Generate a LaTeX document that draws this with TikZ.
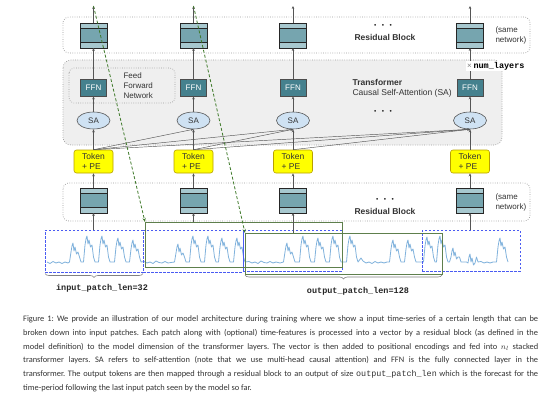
\documentclass[tikz,border=0pt]{standalone}
\usepackage{fontspec}
\setmainfont{Liberation Sans}
\setmonofont{Liberation Mono}
\newfontfamily\capfont{Carlito}
\usetikzlibrary{shapes.geometric,arrows.meta,decorations.pathreplacing}

\definecolor{resL}{HTML}{A7C8CF}
\definecolor{resM}{HTML}{76A5AF}
\definecolor{ffnC}{HTML}{45818E}
\definecolor{saC}{HTML}{CFE2F3}
\definecolor{tokC}{HTML}{FFFF00}
\definecolor{tokD}{HTML}{B8A000}
\definecolor{trC}{HTML}{EFEFEF}
\definecolor{dotC}{HTML}{9A9A9A}
\definecolor{blueD}{HTML}{4A5BF2}
\definecolor{greenB}{HTML}{5E7F4C}
\definecolor{greenA}{HTML}{3F7A2A}
\definecolor{serC}{HTML}{80B2DC}
\definecolor{lineC}{HTML}{555555}
\definecolor{txtC}{HTML}{333333}

\newcommand\ResBlk[3]{%
  \node[resblk] (#1) at (#2,#3) {};
  \fill[resM] ([yshift=-5pt]#1.north west) rectangle ([yshift=6pt]#1.south east);
  \draw[black!85,line width=0.9pt] ([yshift=-5pt]#1.north west) -- ([yshift=-5pt]#1.north east)
     ([yshift=6pt]#1.south west) -- ([yshift=6pt]#1.south east)
     (#1.north west) rectangle (#1.south east);}

\begin{document}
\begin{tikzpicture}[x=1pt,y=-1pt,
  dotbox/.style={draw=dotC, line width=0.7pt, dash pattern=on 0.7pt off 1.6pt, rounded corners=6pt},
  resblk/.style={draw=black!85, line width=0.9pt, fill=resL, minimum width=27pt, minimum height=25pt, inner sep=0pt, outer sep=0pt},
  ffn/.style={draw=black!70, line width=0.6pt, fill=ffnC, minimum width=26pt, minimum height=17pt, inner sep=0pt, text=white, font=\fontsize{8}{9}\selectfont},
  sa/.style={ellipse, draw=lineC, line width=0.6pt, fill=saC, minimum width=33pt, minimum height=17pt, inner sep=0pt, font=\fontsize{8}{9}\selectfont, text=txtC},
  tok/.style={draw=tokD, line width=0.6pt, fill=tokC, rounded corners=2.5pt, minimum width=39pt, minimum height=23pt, inner sep=0pt, align=left, font=\fontsize{8.5}{10}\selectfont, text=txtC},
  arr/.style={draw=lineC, line width=0.6pt, -{Stealth[length=3pt,width=2.6pt]}},
  arrthin/.style={draw=lineC, line width=0.45pt, -{Stealth[length=2.6pt,width=2.2pt]}},
  garr/.style={draw=greenA, line width=0.8pt, dash pattern=on 3pt off 2pt, -{Stealth[length=4pt,width=3.2pt]}},
  bluebox/.style={draw=blueD, line width=0.9pt, dash pattern=on 2.5pt off 1.5pt, inner sep=0pt, outer sep=0pt, anchor=north west},
  greenbox/.style={draw=greenB, line width=0.9pt, inner sep=0pt, outer sep=0pt, anchor=north west},
  series/.style={draw=serC, line width=0.8pt, line join=round},
  brace/.style={draw=gray, line width=0.6pt, decorate, decoration={brace,mirror,amplitude=4pt}},
  lbl/.style={text=txtC, font=\fontsize{8.5}{10}\selectfont},
  blbl/.style={text=txtC, font=\bfseries\fontsize{8.5}{10}\selectfont},
  mono/.style={text=black!85, font=\ttfamily\bfseries\fontsize{8.5}{10}\selectfont},
  dots/.style={text=black!85, font=\fontsize{6.5}{8}\selectfont}
]
\fill[white] (0,0) rectangle (560,412);
\useasboundingbox (0,0) rectangle (560,412);

% background boxes
\draw[dotbox, fill=trC, rounded corners=8pt] (63,60) rectangle (502,145);
\draw[dotbox] (63,17) rectangle (530,53);
\draw[dotbox] (63,183) rectangle (530,221);
\draw[dotbox, rounded corners=5pt] (69,68) rectangle (175,103);

% time series
\draw[series] (47,262)
  foreach \x/\y in {50/263.5,53/261.5,56/263,59/262,62/263.5,65/262,68/263}{ -- (\x,\y)}
  foreach \p/\h in {73/243,87/236,102/236,118/238,133/240}{ -- (\p-3.5,262) -- (\p-2,\h+9) -- (\p-1,\h+3) -- (\p,\h) -- (\p+1,\h+8) -- (\p+2,\h+4) -- (\p+3.5,\h+11) -- (\p+5,\h+9) -- (\p+6.5,257) -- (\p+8,262)}
  foreach \x/\y in {144/261.5,147/263,150/262,153/263.5,156/261,159/262.5,162/263,165/261.5,168/263,171/262.5}{ -- (\x,\y)}
  foreach \p/\h in {178/244,193/236,208/236,222/238,237/238}{ -- (\p-3.5,262) -- (\p-2,\h+9) -- (\p-1,\h+3) -- (\p,\h) -- (\p+1,\h+8) -- (\p+2,\h+4) -- (\p+3.5,\h+11) -- (\p+5,\h+9) -- (\p+6.5,257) -- (\p+8,262)}
  foreach \x/\y in {249/261.5,252/263,255/262,258/263.5,261/261,264/262.5,267/263,270/261.5,273/263,276/262,280/263}{ -- (\x,\y)}
  foreach \p/\h in {287/243,303/236,318/238,333/236,350/236}{ -- (\p-3.5,262) -- (\p-2,\h+9) -- (\p-1,\h+3) -- (\p,\h) -- (\p+1,\h+8) -- (\p+2,\h+4) -- (\p+3.5,\h+11) -- (\p+5,\h+9) -- (\p+6.5,257) -- (\p+8,262)}
  foreach \x/\y in {361/258,363/261,366/263,369/262,372/263.5,375/261.5,378/263,381/262,384/263,387/262}{ -- (\x,\y)}
  foreach \p/\h in {393/240,408/240,427/237,440/236,453/248,470/254}{ -- (\p-3.5,262) -- (\p-2,\h+9) -- (\p-1,\h+3) -- (\p,\h) -- (\p+1,\h+8) -- (\p+2,\h+4) -- (\p+3.5,\h+11) -- (\p+5,\h+9) -- (\p+6.5,257) -- (\p+8,262)}
  foreach \x/\y in {481/261.5,484/263,487/262,490/263,493/262}{ -- (\x,\y)}
  foreach \p/\h in {500/238}{ -- (\p-3.5,262) -- (\p-2,\h+9) -- (\p-1,\h+3) -- (\p,\h) -- (\p+1,\h+8) -- (\p+2,\h+4) -- (\p+3.5,\h+11) -- (\p+5,\h+9) -- (\p+6.5,257) -- (\p+8,262)};

% patch boxes
\node[bluebox, minimum width=98pt, minimum height=42pt] (B1) at (45,230) {};
\node[bluebox, minimum width=100pt, minimum height=42pt] (B2) at (143,230) {};
\node[bluebox, minimum width=99pt, minimum height=41pt] (B3) at (243,230) {};
\node[bluebox, minimum width=98pt, minimum height=41pt] (B4) at (422,230) {};
\node[greenbox, minimum width=197pt, minimum height=45pt] (G1) at (145,222) {};
\node[greenbox, minimum width=197pt, minimum height=41pt] (G2) at (245,233) {};

% braces and labels
\draw[brace] ([yshift=-1.5pt]B1.south west) -- ([yshift=-1.5pt]B1.south east);
\draw[brace] ([yshift=-1pt]G2.south west) -- ([yshift=-1pt]G2.south east);
\node[mono] (l1) at (102,288) {input\_patch\_len=32};
\node[mono] (l2) at (358,291) {output\_patch\_len=128};

% columns
\foreach \i/\c in {1/93.5,2/193.5,3/293,4/470}{
  \ResBlk{t\i}{\c}{35.5}
  \ResBlk{b\i}{\c}{200.5}
  \node[ffn] (f\i) at (\c,87.5) {FFN};
  \node[sa] (s\i) at (\c,120.5) {SA};
  \node[tok] (k\i) at (\c,161.5) {Token\\+ PE};
  \coordinate (o\i) at (\c,6);
  \draw[arr] (t\i.north) -- (o\i);
  \draw[arr] (f\i.north) -- (t\i.south);
  \draw[arr] (s\i.north) -- (f\i.south);
  \draw[arr] (k\i.north) -- (s\i.south);
  \draw[arr] (b\i.north) -- (k\i.south);
}
% causal attention connections
\foreach \i/\j in {1/2,1/3,1/4,2/3,2/4,3/4}{
  \draw[arrthin] (k\i.north) -- (s\j.south);
}
% inputs into bottom residual blocks
\draw[arr] (b1 |- B1.north) -- (b1.south);
\draw[arr] (b2 |- G1.north) -- (b2.south);
\draw[arr] (b3 |- G2.north) -- (b3.south);
\draw[arr] (b4 |- B4.north) -- (b4.south);

% texts
\node[dots] (d1) at (383,26) {•\hspace{5.5pt}•\hspace{5.5pt}•};
\node[blbl] (rb1) at (385,37) {Residual Block};
\node[dots] (d2) at (383,112) {•\hspace{5.5pt}•\hspace{5.5pt}•};
\node[dots] (d3) at (385,200) {•\hspace{5.5pt}•\hspace{5.5pt}•};
\node[blbl] (rb2) at (385,211) {Residual Block};
\node[lbl, anchor=west, align=left, font=\fontsize{8}{10}\selectfont] (sn1) at (492,35) {(same\\network)};
\node[lbl, anchor=west, align=left, font=\fontsize{8}{10}\selectfont] (sn2) at (492,202) {(same\\network)};
\node[lbl, anchor=west, align=left, font=\fontsize{8}{10}\selectfont] (ffl) at (120,86) {Feed\\Forward\\Network};
\node[blbl, anchor=west] (trt) at (349,82) {Transformer};
\node[lbl, anchor=west] (trs) at (349,93) {Causal Self-Attention (SA)};
\node[anchor=west, fill=white, inner sep=1pt] (nl) at (466,66) {{\color{gray}\fontsize{8}{10}\selectfont ×}\,{\ttfamily\bfseries\fontsize{8.5}{10}\selectfont num\_layers}};

% green dashed arrows
\draw[garr] (o1) -- (G1.north west);
\draw[garr] (o2) -- (G2.north west);

% caption
\node[anchor=base west, inner sep=0pt, text=txtC] (cap) at (23,321.5) {\parbox[t]{515pt}{\capfont\fontsize{8.4}{13.8}\selectfont\frenchspacing\emergencystretch=20pt
Figure 1: We provide an illustration of our model architecture during training where we show a input time-series of a certain length that can be\linebreak
broken down into input patches. Each patch along with (optional) time-features is processed into a vector by a residual block (as defined in the\linebreak
model definition) to the model dimension of the transformer layers. The vector is then added to positional encodings and fed into $n_l$ stacked\linebreak
transformer layers. SA refers to self-attention (note that we use multi-head causal attention) and FFN is the fully connected layer in the\linebreak
transformer. The output tokens are then mapped through a residual block to an output of size {\ttfamily\fontsize{8.4}{13.8}\selectfont output\_patch\_len} which is the forecast for the\linebreak
time-period following the last input patch seen by the model so far.}};
\end{tikzpicture}
\end{document}
